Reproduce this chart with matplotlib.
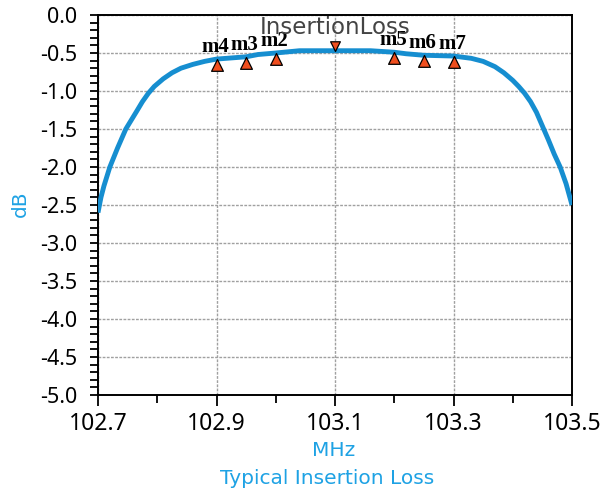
import matplotlib
matplotlib.use("Agg")
import matplotlib.pyplot as plt
from matplotlib.path import Path
from matplotlib.ticker import MultipleLocator, FormatStrFormatter

# ---- data ----
freq = [102.700, 102.705, 102.710, 102.720, 102.733, 102.747, 102.765, 102.775,
        102.785, 102.795, 102.810, 102.825, 102.840, 102.860, 102.880, 102.900,
        102.950, 102.970, 103.000, 103.040, 103.100, 103.160, 103.200, 103.220,
        103.250, 103.300, 103.330, 103.350, 103.370, 103.385, 103.400, 103.410,
        103.420, 103.430, 103.440, 103.450, 103.460, 103.470, 103.480, 103.490,
        103.500]
loss = [-2.60, -2.40, -2.25, -2.00, -1.75, -1.50, -1.27, -1.14,
        -1.03, -0.94, -0.84, -0.76, -0.70, -0.65, -0.61, -0.58,
        -0.55, -0.52, -0.50, -0.47, -0.47, -0.47, -0.49, -0.51,
        -0.53, -0.54, -0.57, -0.61, -0.68, -0.76, -0.86, -0.94,
        -1.03, -1.14, -1.28, -1.46, -1.64, -1.83, -2.00, -2.22,
        -2.50]

marker_names = ["m4", "m3", "m2", "m5", "m6", "m7"]
marker_freq = [102.90, 102.95, 103.00, 103.20, 103.25, 103.30]
marker_val = [-0.58, -0.55, -0.50, -0.49, -0.53, -0.54]
peak_freq = [103.10]
peak_val = [-0.47]

x_ticks = [102.7, 102.9, 103.1, 103.3, 103.5]

BLUE = "#168ed0"
LABEL_BLUE = "#1ea2e4"
MARK = "#f04e1e"

fig = plt.figure(figsize=(6.01, 4.90), dpi=100)
ax = fig.add_axes([98 / 601, 1 - 395 / 490, (572 - 98) / 601, (395 - 15) / 490])

ax.plot(freq, loss, color=BLUE, lw=3.5, solid_capstyle="butt",
        solid_joinstyle="round", zorder=3)

up_tri = Path([(0, 0), (-0.5, -1), (0.5, -1), (0, 0)],
              [Path.MOVETO, Path.LINETO, Path.LINETO, Path.CLOSEPOLY])
down_tri = Path([(0, 0), (-0.5, 1), (0.5, 1), (0, 0)],
                [Path.MOVETO, Path.LINETO, Path.LINETO, Path.CLOSEPOLY])

ax.plot(marker_freq, marker_val, linestyle="none", marker=up_tri, markersize=17,
        markerfacecolor=MARK, markeredgecolor="black", markeredgewidth=0.9, zorder=4)
ax.plot(peak_freq, peak_val, linestyle="none", marker=down_tri, markersize=14,
        markerfacecolor=MARK, markeredgecolor="black", markeredgewidth=0.9, zorder=4)

for name, f, v in zip(marker_names, marker_freq, marker_val):
    ax.annotate(name, xy=(f, v), xytext=(-1, 5), textcoords="offset points",
                ha="center", va="baseline", fontsize=15, fontweight="bold",
                family="Liberation Serif", color="black", zorder=5)

ax.text(103.1, 0.95, "InsertionLoss", transform=ax.get_xaxis_transform(),
        ha="center", va="baseline", fontsize=16.5, color="#444444",
        family="DejaVu Sans", zorder=5)

ax.set_xlim(102.7, 103.5)
ax.set_ylim(-5.0, 0.0)
ax.set_xticks(x_ticks)
ax.xaxis.set_minor_locator(MultipleLocator(0.1))
ax.yaxis.set_major_locator(MultipleLocator(0.5))
ax.yaxis.set_minor_locator(MultipleLocator(0.1))
ax.xaxis.set_major_formatter(FormatStrFormatter("%.1f"))
ax.yaxis.set_major_formatter(FormatStrFormatter("%.1f"))

ax.grid(True, which="major", color="#a0a0a0", linestyle=(0, (2, 1)), lw=1.0, zorder=1)

ax.tick_params(axis="y", which="both", direction="out", length=6, width=1.3, pad=9,
               labelsize=15.5, colors="black")
ax.tick_params(axis="x", which="major", direction="out", length=8, width=1.3, pad=4,
               labelsize=16.5)
ax.tick_params(axis="x", which="minor", direction="out", length=6, width=1.3)
for lab in ax.get_xticklabels() + ax.get_yticklabels():
    lab.set_family("Noto Sans")

for sp in ax.spines.values():
    sp.set_linewidth(1.4)
    sp.set_color("black")

fig.text(20 / 601, 1 - 204 / 490, "dB", rotation=90, ha="center", va="center",
         color=LABEL_BLUE, fontsize=14.5, family="DejaVu Sans")
fig.text(334 / 601, 1 - 450 / 490, "MHz", ha="center", va="center",
         color=LABEL_BLUE, fontsize=14.5, family="DejaVu Sans")
fig.text(327 / 601, 1 - 478 / 490, "Typical Insertion Loss", ha="center", va="center",
         color=LABEL_BLUE, fontsize=14.5, family="DejaVu Sans")

fig.savefig("out.png", dpi=100)
